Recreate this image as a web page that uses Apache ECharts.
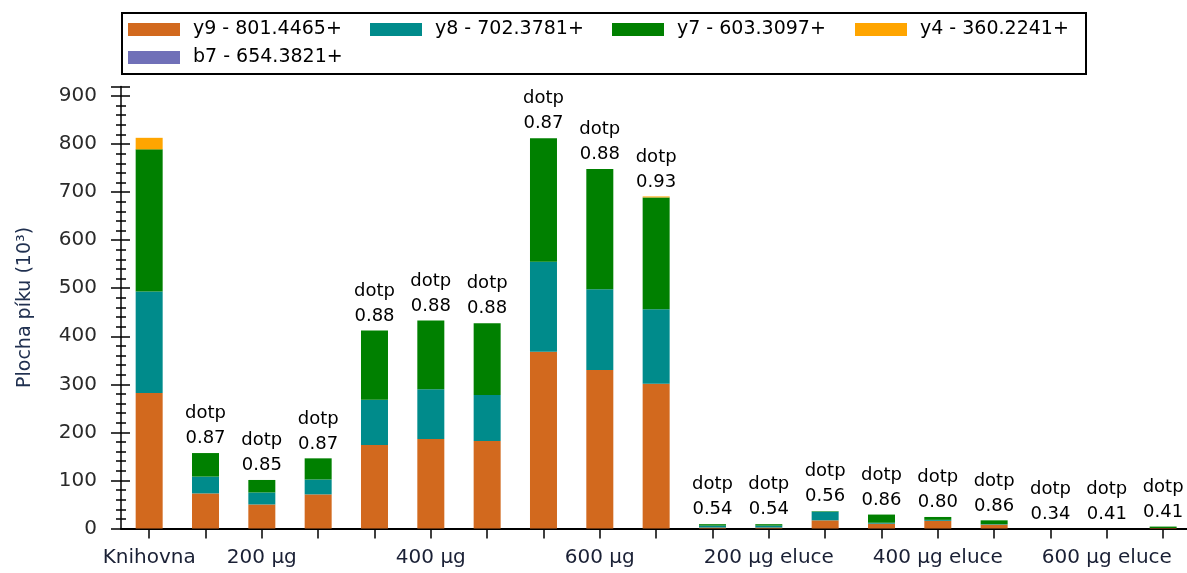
<!DOCTYPE html>
<html>
<head>
<meta charset="utf-8">
<script src="https://cdn.jsdelivr.net/npm/echarts@6/dist/echarts.min.js"></script>
<style>
html,body{margin:0;padding:0;background:#fff;}
#chart{width:1187px;height:573px;}
</style>
</head>
<body>
<div id="chart"></div>
<script>
const categories = ['Knihovna',
  '200 µg','200 µg','200 µg',
  '400 µg','400 µg','400 µg',
  '600 µg','600 µg','600 µg',
  '200 µg eluce','200 µg eluce','200 µg eluce',
  '400 µg eluce','400 µg eluce','400 µg eluce',
  '600 µg eluce','600 µg eluce','600 µg eluce'];
const seriesNames = ['y9 - 801.4465+','y8 - 702.3781+','y7 - 603.3097+','y4 - 360.2241+','b7 - 654.3821+'];
const y9 = [282, 73, 50, 71, 174, 186, 182, 368, 330, 301, 2, 2, 17, 10, 16, 8, 0, 0, 1];
const y8 = [211, 35, 25, 31, 94, 104, 96, 187, 168, 155, 4, 4, 18, 2, 2, 1, 0, 0, 0];
const y7 = [296, 49, 26, 44, 144, 143, 149, 257, 250, 233, 3, 3, 1, 17, 6, 8, 0, 0, 3];
const y4 = [24, 0, 0, 0, 0, 0, 0, 0, 0, 2, 0, 0, 0, 0, 0, 0, 0, 0, 0];
const b7 = [0, 0, 0, 0, 0, 0, 0, 0, 0, 0, 0, 0, 0, 0, 0, 0, 0, 0, 0];
const dotp = ['', '0.87', '0.85', '0.87', '0.88', '0.88', '0.88', '0.87', '0.88', '0.93',
  '0.54', '0.54', '0.56', '0.86', '0.80', '0.86', '0.34', '0.41', '0.41'];
const yTicks = [0, 100, 200, 300, 400, 500, 600, 700, 800, 900];
const colors = ['#D2691E', '#008B8B', '#008000', '#FFA500', '#7070B8'];

const FONT = 'DejaVu Sans';
const chart = echarts.init(document.getElementById('chart'), null, {renderer: 'canvas'});

const gridBox = {left: 121, top: 86.4, width: 1070.3, height: 442.1, outerBoundsMode: 'none', containLabel: false};
const legendPos = [[128, 19.5], [370, 19.5], [612, 19.5], [855, 19.5], [128, 47.5]];

const valuesList = [y9, y8, y7, y4, b7];
const series = valuesList.map((vals, i) => {
  const s = {
    name: seriesNames[i],
    type: 'bar',
    stack: 'total',
    data: vals,
    barWidth: 27,
    itemStyle: {color: colors[i]},
    emphasis: {disabled: true},
    animation: false
  };
  if (i === valuesList.length - 1) {
    s.label = {
      show: true,
      position: 'top',
      distance: 2,
      fontFamily: FONT,
      fontSize: 18,
      lineHeight: 25,
      color: '#000',
      align: 'center',
      formatter: p => dotp[p.dataIndex] ? 'dotp\n' + dotp[p.dataIndex] : ''
    };
  }
  return s;
});

const option = {
  animation: false,
  backgroundColor: '#fff',
  textStyle: {fontFamily: FONT},
  graphic: [{
    type: 'rect',
    left: 121, top: 12, z: 0,
    shape: {width: 964, height: 61},
    style: {fill: '#fff', stroke: '#000', lineWidth: 2}
  }],
  legend: seriesNames.map((n, i) => ({
    data: [n],
    left: legendPos[i][0],
    top: legendPos[i][1],
    padding: 0,
    itemWidth: 52,
    itemHeight: 13,
    icon: 'rect',
    selectedMode: false,
    z: 5,
    textStyle: {fontFamily: FONT, fontSize: 19, color: '#000', lineHeight: 20, padding: [0, 0, 0, 8]}
  })),
  grid: [Object.assign({}, gridBox), Object.assign({}, gridBox)],
  xAxis: [{
    type: 'category',
    gridIndex: 0,
    data: categories,
    axisLine: {lineStyle: {color: '#000', width: 2}},
    axisTick: {show: true, alignWithLabel: true, interval: 0, length: 10, lineStyle: {color: '#000', width: 1.5}},
    axisLabel: {
      interval: 0, margin: 19, fontFamily: FONT, fontSize: 20, color: '#1a2035',
      formatter: (v, idx) => (idx === 0 || (idx - 1) % 3 === 1) ? v : ''
    },
    splitLine: {show: false}
  }, {
    type: 'category',
    gridIndex: 1,
    data: categories,
    show: false
  }],
  yAxis: [{
    type: 'value',
    gridIndex: 0,
    min: 0, max: 920, interval: 100,
    name: 'Plocha píku (10³)',
    nameLocation: 'middle',
    nameGap: 86,
    nameMoveOverlap: false,
    nameTextStyle: {fontFamily: FONT, fontSize: 19, color: '#203050'},
    axisLine: {show: true, lineStyle: {color: '#000', width: 1.5}},
    axisTick: {show: true, length: 10, lineStyle: {color: '#000', width: 1.5}},
    minorTick: {show: true, splitNumber: 5, length: 5, lineStyle: {color: '#000', width: 1.5}},
    axisLabel: {
      margin: 24, fontFamily: FONT, fontSize: 20, color: '#2a2a2a',
      formatter: v => yTicks.indexOf(v) >= 0 ? String(v) : ''
    },
    splitLine: {show: false},
    minorSplitLine: {show: false}
  }, {
    type: 'value',
    gridIndex: 1,
    min: 0, max: 920, interval: 100,
    axisLine: {show: false},
    axisTick: {show: true, inside: true, length: 9, lineStyle: {color: '#000', width: 1.5}},
    minorTick: {show: true, splitNumber: 5, length: 5, lineStyle: {color: '#000', width: 1.5}},
    axisLabel: {show: false},
    splitLine: {show: false},
    minorSplitLine: {show: false}
  }],
  series: series
};
chart.setOption(option);
</script>
</body>
</html>
